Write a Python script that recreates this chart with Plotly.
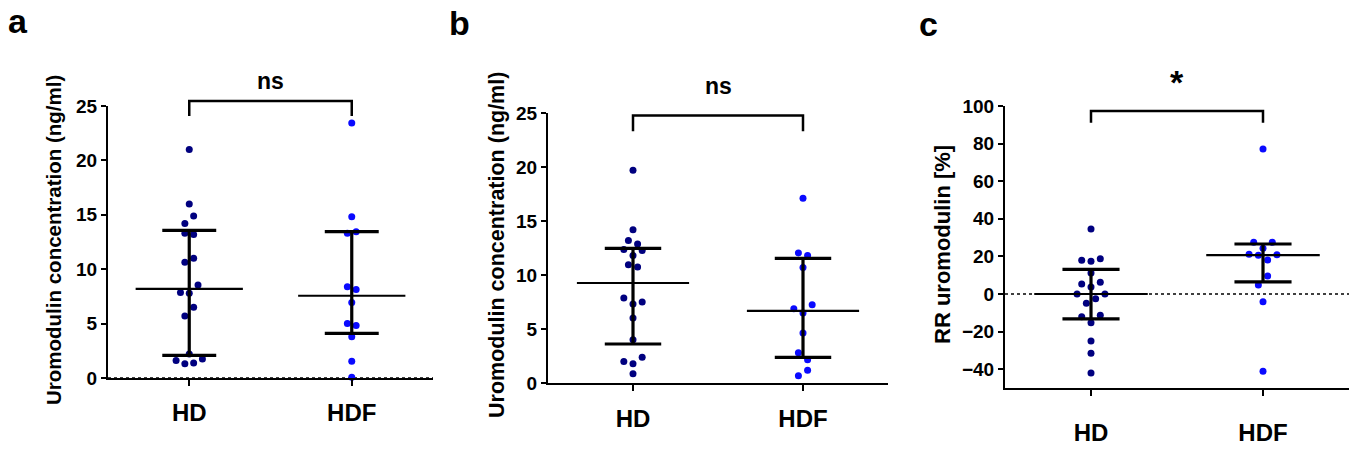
import plotly.graph_objects as go

groups = ["HD", "HDF"]

# panel a - uromodulin concentration (ng/ml)
a_hd = [21.0, 16.0, 14.9, 14.2, 13.3, 13.2, 11.0, 10.65, 8.55, 7.85, 7.8, 6.5, 5.7, 2.2, 1.75, 1.6, 1.3, 1.38]
a_hd_slot = [0, 0, 1, -1, -1, 1, 1, -1, 2, -2, 0, 1, -1, 0, 3, -3, -1, 1]
a_hdf = [23.44, 14.81, 13.3, 13.45, 8.38, 8.14, 6.95, 5.02, 4.83, 3.8, 1.53, 0.06]
a_hdf_slot = [0, 0, -1, 1, -1, 1, 0, -1, 1, 0, 0, 0]
a_median = [8.2, 7.56]
a_q1 = [2.08, 4.1]
a_q3 = [13.56, 13.46]

# panel b - uromodulin concentration (ng/ml)
b_hd = [19.69, 14.2, 13.2, 12.87, 12.35, 12.28, 11.8, 10.96, 10.74, 7.87, 7.31, 7.5, 6.02, 4.01, 2.38, 2.0, 1.79, 0.86]
b_hd_slot = [0, 0, -1, 1, -2, 2, 0, -1, 1, -2, 0, 2, 0, 0, 2, -2, 0, 0]
b_hdf = [17.1, 12.04, 11.8, 10.7, 6.88, 7.25, 6.48, 4.63, 2.81, 2.16, 1.17, 0.68]
b_hdf_slot = [0, -1, 1, 0, -2, 2, 0, 0, -1, 1, 1, -1]
b_median = [9.26, 6.67]
b_q1 = [3.61, 2.38]
b_q3 = [12.47, 11.54]

# panel c - RR uromodulin [%]
c_hd = [34.6, 17.9, 17.4, 18.8, 11.2, 5.3, 6.2, 3.7, 0.0, 0.0, -4.9, -2.5, -12.1, -11.3, -15.3, -25.0, -31.5, -42.0]
c_hd_slot = [0, -2, 0, 2, 0, -2, 2, 0, -3, 3, -1, 1, -2, 2, 0, 0, 0, 0]
c_hdf = [77.1, 27.5, 27.5, 24.3, 21.1, 20.6, 20.9, 18.1, 9.6, 4.8, -4.1, -41.1]
c_hdf_slot = [0, -2, 2, 0, -3, -1, 3, 1, 1, -1, 0, 0]
c_median = [0.0, 20.7]
c_q1 = [-13.2, 6.4]
c_q3 = [13.1, 26.6]

HD_COLOR = "#00007f"
HDF_COLOR = "#0a0aff"
FONT = "Arial, Liberation Sans, sans-serif"
SLOT_W = 0.027
XRANGE = [-0.5, 1.5]

fig = go.Figure()


def frac(v, rng):
    return (v - rng[0]) / (rng[1] - rng[0])


def add_panel(n, yrange, hd, hd_slot, hdf, hdf_slot, median, q1, q3, bracket, sig, sig_y, zero_line):
    xa, ya = ("x", "y") if n == 1 else ("x%d" % n, "y%d" % n)
    if zero_line:
        fig.add_trace(go.Scatter(x=XRANGE, y=[0, 0], mode="lines", xaxis=xa, yaxis=ya,
                                 line=dict(color="black", width=1.5, dash="dot"),
                                 showlegend=False, hoverinfo="skip"))
    for i, (vals, slots, col) in enumerate([(hd, hd_slot, HD_COLOR), (hdf, hdf_slot, HDF_COLOR)]):
        fig.add_trace(go.Scatter(x=[i + s * SLOT_W for s in slots], y=vals, mode="markers",
                                 xaxis=xa, yaxis=ya, cliponaxis=False,
                                 marker=dict(color=col, size=7), showlegend=False))
    for i in range(2):
        # median line
        fig.add_trace(go.Scatter(x=[i - 0.33, i + 0.33], y=[median[i]] * 2, mode="lines",
                                 xaxis=xa, yaxis=ya, line=dict(color="black", width=2.2),
                                 showlegend=False, hoverinfo="skip"))
        # interquartile range with caps
        fig.add_trace(go.Scatter(x=[i - 0.166, i + 0.166, None, i, i, None, i - 0.166, i + 0.166],
                                 y=[q1[i], q1[i], None, q1[i], q3[i], None, q3[i], q3[i]],
                                 mode="lines", xaxis=xa, yaxis=ya,
                                 line=dict(color="black", width=3.2),
                                 showlegend=False, hoverinfo="skip"))
    # significance bracket above the plot area (domain refs so it is not clipped)
    lo, hi = frac(bracket[0], yrange), frac(bracket[1], yrange)
    x0, x1 = frac(0, XRANGE), frac(1, XRANGE)
    fig.add_shape(type="path", xref=xa + " domain", yref=ya + " domain",
                  path="M %f %f L %f %f L %f %f L %f %f" % (x0, lo, x0, hi, x1, hi, x1, lo),
                  line=dict(color="black", width=2.5))
    fig.add_annotation(x=frac(0.5, XRANGE), y=frac(sig_y, yrange), xref=xa + " domain",
                       yref=ya + " domain", text=sig, showarrow=False,
                       xanchor="center", yanchor="middle",
                       font=dict(family=FONT, size=23 if sig == "ns" else 34, color="black",
                                 weight="bold"))


A_RANGE = [0, 25]
B_RANGE = [0, 25]
C_RANGE = [-50, 100]
add_panel(1, A_RANGE, a_hd, a_hd_slot, a_hdf, a_hdf_slot, a_median, a_q1, a_q3, (24.08, 25.46), "ns", 27.3, True)
add_panel(2, B_RANGE, b_hd, b_hd_slot, b_hdf, b_hdf_slot, b_median, b_q1, b_q3, (23.3, 24.78), "ns", 27.5, False)
add_panel(3, C_RANGE, c_hd, c_hd_slot, c_hdf, c_hdf_slot, c_median, c_q1, c_q3, (91.1, 97.3), "*", 113, True)

W, H = 1358, 453
tickfont = dict(family=FONT, size=19, color="black", weight="bold")
catfont = dict(family=FONT, size=24, color="black", weight="bold")


def xaxis(anchor, px0, px1, standoff):
    return dict(anchor=anchor, domain=[px0 / W, px1 / W], range=XRANGE, tickvals=[0, 1],
                ticktext=groups, showline=True, linecolor="black", linewidth=2, ticks="outside",
                ticklen=6, tickwidth=2, tickcolor="black", showgrid=False, zeroline=False,
                tickfont=catfont, ticklabelstandoff=standoff, automargin=False, fixedrange=True)


def yaxis(anchor, py0, py1, rng, vals):
    return dict(anchor=anchor, domain=[1 - py0 / H, 1 - py1 / H], range=rng, tickvals=vals,
                showline=True, linecolor="black", linewidth=2, ticks="outside", ticklen=5,
                tickwidth=2, tickcolor="black", showgrid=False, zeroline=False,
                tickfont=tickfont, automargin=False, fixedrange=True)


fig.update_layout(
    width=W, height=H,
    margin=dict(l=0, r=0, t=0, b=0, pad=0),
    paper_bgcolor="white", plot_bgcolor="white",
    xaxis=xaxis("y", 108, 433, 6),
    yaxis=yaxis("x", 378, 106, A_RANGE, [0, 5, 10, 15, 20, 25]),
    xaxis2=xaxis("y2", 548, 888, 7),
    yaxis2=yaxis("x2", 383, 113, B_RANGE, [0, 5, 10, 15, 20, 25]),
    xaxis3=xaxis("y3", 1005, 1349, 16),
    yaxis3=yaxis("x3", 388, 106, C_RANGE, [-40, -20, 0, 20, 40, 60, 80, 100]),
)

# y axis titles
for text, px, py, size in [("Uromodulin concentration (ng/ml)", 53, 240, 20.5),
                           ("Uromodulin concentration (ng/ml)", 497, 245, 21.5),
                           ("RR uromodulin [%]", 942, 245, 22)]:
    fig.add_annotation(x=px / W, y=1 - py / H, xref="paper", yref="paper", text=text,
                       textangle=-90, showarrow=False, xanchor="center", yanchor="middle",
                       font=dict(family=FONT, size=size, color="black", weight="bold"))

# panel letters
for letter, px, py in [("a", 18, 21), ("b", 459, 23), ("c", 928, 24)]:
    fig.add_annotation(x=px / W, y=1 - py / H, xref="paper", yref="paper", text=letter,
                       showarrow=False, xanchor="center", yanchor="middle",
                       font=dict(family=FONT, size=34, color="black", weight="bold"))

fig.write_html("out.html", config={"displayModeBar": False},
               post_script="document.body.style.margin = '0';")
